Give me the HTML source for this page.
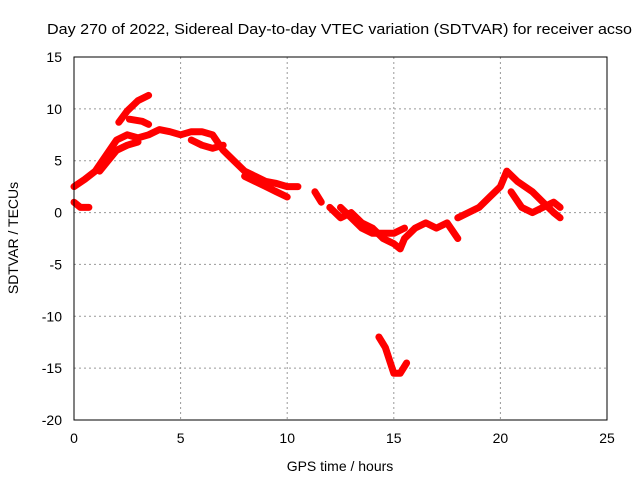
<!DOCTYPE html>
<html><head><meta charset="utf-8"><style>
body{margin:0;background:#fff}
svg text{font-family:"Liberation Sans",sans-serif;font-size:14px;fill:#000}
</style></head><body>
<svg id="chart" width="640" height="480">
<rect width="640" height="480" fill="#fff"/>
<text x="47" y="34" textLength="585" lengthAdjust="spacingAndGlyphs" style="font-size:15px">Day 270 of 2022, Sidereal Day-to-day VTEC variation (SDTVAR) for receiver acso</text>
<g id="grid"></g><g id="ticks"></g><g id="series"></g>
<rect x="74" y="57" width="533" height="363" fill="none" stroke="#000"/>
<text x="340" y="471" text-anchor="middle">GPS time / hours</text>
<text transform="translate(18,238) rotate(-90)" text-anchor="middle">SDTVAR / TECUs</text>
</svg>
<script>
const xTicks=[0,5,10,15,20,25];
const yTicks=[15,10,5,0,-5,-10,-15,-20];
const trackA=[[0,2.5],[0.5,3.2],[1,4],[1.5,5.5],[2,7],[2.5,7.5],[3,7.2],[3.5,7.5],[4,8],[4.5,7.8],[5,7.5],[5.5,7.8],[6,7.8],[6.5,7.5],[7,6],[7.5,5],[8,4],[8.5,3.5],[9,3],[9.5,2.8],[10,2.5],[10.5,2.5]];
const trackB=[[0,1],[0.3,0.5],[0.7,0.5]];
const trackC=[[2.1,8.7],[2.5,9.8],[3,10.8],[3.5,11.3]];
const trackD=[[2.6,9],[3.2,8.8],[3.5,8.5]];
const trackE=[[1.2,4],[1.6,5],[2,6],[2.5,6.5],[3,6.8]];
const trackF=[[5.5,7],[6,6.5],[6.5,6.2],[7,6.5]];
const trackG=[[8,3.5],[8.5,3],[9,2.5],[9.5,2],[10,1.5]];
const trackH=[[11.3,2],[11.6,1]];
const trackI=[[12,0.5],[12.5,-0.5],[13,0],[13.5,-1],[14,-1.5],[14.5,-2.5],[15,-3],[15.3,-3.5],[15.5,-2.5],[16,-1.5],[16.5,-1],[17,-1.5],[17.5,-1],[18,-2.5]];
const trackJ=[[12.5,0.5],[13,-0.5],[13.5,-1.5],[14,-2],[14.5,-2],[15,-2],[15.5,-1.5]];
const trackK=[[18,-0.5],[18.5,0],[19,0.5],[19.5,1.5],[20,2.5],[20.3,4],[20.8,3],[21.5,2],[22,1],[22.5,0],[22.8,-0.5]];
const trackL=[[20.5,2],[21,0.5],[21.5,0],[22,0.5],[22.5,1],[22.8,0.5]];
const trackM=[[14.3,-12],[14.6,-13],[15,-15.5],[15.3,-15.5],[15.6,-14.5]];
const tracks=[trackA,trackB,trackC,trackD,trackE,trackF,trackG,trackH,trackI,trackJ,trackK,trackL,trackM];
const X0=74,X1=607,Y0=420,Y1=57;
const xs=v=>X0+(v-0)/25*(X1-X0);
const ys=v=>Y0-(v+20)/35*(Y0-Y1);
const NS="http://www.w3.org/2000/svg";
function mk(tag,attrs,parent){const e=document.createElementNS(NS,tag);for(const k in attrs)e.setAttribute(k,attrs[k]);parent.appendChild(e);return e;}
const grid=document.getElementById('grid'),ticks=document.getElementById('ticks'),ser=document.getElementById('series');
xTicks.forEach(t=>{const x=xs(t);
 if(t>0&&t<25){const g=mk('line',{x1:x,x2:x,y1:Y1,y2:Y0,stroke:'#999','stroke-dasharray':'2,3'},grid);
 
 }
 const l=mk('text',{x:x,y:Y0+23,'text-anchor':'middle'},ticks);l.textContent=t;
 
 
});
yTicks.forEach(t=>{const y=ys(t);
 if(t>-20&&t<15){const g=mk('line',{x1:X0,x2:X1,y1:y,y2:y,stroke:'#999','stroke-dasharray':'2,3'},grid);
 
 }
 const l=mk('text',{x:X0-12,y:y+5,'text-anchor':'end'},ticks);l.textContent=t;
 
 
});
tracks.forEach(tr=>{
 const d=tr.map((p,i)=>(i?'L':'M')+xs(p[0]).toFixed(1)+','+ys(p[1]).toFixed(1)).join(' ');
 const p=mk('path',{d:d,fill:'none',stroke:'#f00','stroke-width':7,'stroke-linejoin':'round','stroke-linecap':'round'},ser);
 
 
});
</script>
</body></html>
